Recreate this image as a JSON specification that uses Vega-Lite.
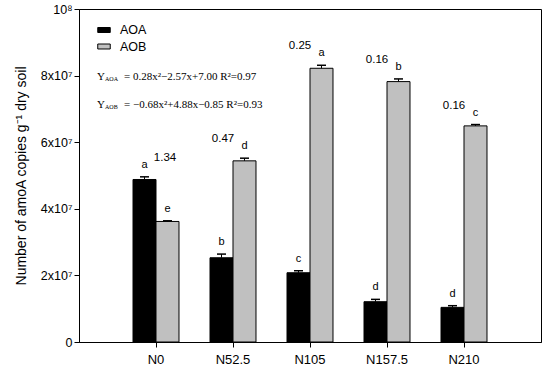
{
  "$schema": "https://vega.github.io/schema/vega-lite/v6.json",
  "autosize": "none",
  "width": 462,
  "height": 333,
  "padding": {"left": 79, "top": 9, "right": 9, "bottom": 30},
  "background": "white",
  "config": {
    "font": "Liberation Sans",
    "view": {"stroke": "black", "strokeWidth": 1},
    "axis": {"grid": false, "domainColor": "black", "tickColor": "black", "labelColor": "black", "titleColor": "black", "tickSize": 5}
  },
  "datasets": {
    "eq": [
      {"line": 1, "t": "Y", "s": "AOA", "e": "= 0.28x²−2.57x+7.00 R²=0.97"},
      {"line": 2, "t": "Y", "s": "AOB", "e": "= −0.68x²+4.88x−0.85 R²=0.93"}
    ]
  },
  "data": {"values": [
    {"group": "N0", "type": "AOA", "value": 48800000, "hi": 49600000, "letter": "a"},
    {"group": "N0", "type": "AOB", "value": 36200000, "hi": 36400000, "letter": "e", "ratio": "1.34"},
    {"group": "N52.5", "type": "AOA", "value": 25300000, "hi": 26400000, "letter": "b"},
    {"group": "N52.5", "type": "AOB", "value": 54400000, "hi": 55200000, "letter": "d", "ratio": "0.47"},
    {"group": "N105", "type": "AOA", "value": 20800000, "hi": 21400000, "letter": "c"},
    {"group": "N105", "type": "AOB", "value": 82200000, "hi": 83100000, "letter": "a", "ratio": "0.25"},
    {"group": "N157.5", "type": "AOA", "value": 12100000, "hi": 12800000, "letter": "d"},
    {"group": "N157.5", "type": "AOB", "value": 78200000, "hi": 79000000, "letter": "b", "ratio": "0.16"},
    {"group": "N210", "type": "AOA", "value": 10400000, "hi": 10900000, "letter": "d"},
    {"group": "N210", "type": "AOB", "value": 64900000, "hi": 65300000, "letter": "c", "ratio": "0.16"}
  ]},
  "layer": [
    {
      "mark": {"type": "bar", "stroke": "black", "strokeWidth": 1},
      "encoding": {
        "x": {
          "field": "group", "type": "nominal",
          "scale": {"domain": ["N0", "N52.5", "N105", "N157.5", "N210"], "paddingInner": 0.403, "paddingOuter": 0.7015},
          "axis": {"title": null, "labelAngle": 0, "labelFontSize": 13, "labelPadding": 6, "tickSize": 5}
        },
        "y": {
          "field": "value", "type": "quantitative",
          "scale": {"domain": [0, 100000000], "nice": false},
          "axis": {
            "values": [0, 20000000, 40000000, 60000000, 80000000, 100000000],
            "labelExpr": "datum.value == 0 ? '0' : (datum.value == 100000000 ? '10⁸' : (datum.value / 10000000) + 'x10⁷')",
            "labelFontSize": 12.5, "labelPadding": 2,
            "title": "Number of amoA copies g⁻¹ dry soil",
            "titleFontSize": 14, "titleFontWeight": "normal", "titlePadding": 12
          }
        },
        "xOffset": {"field": "type", "type": "nominal", "scale": {"domain": ["AOA", "AOB"], "paddingInner": 0, "paddingOuter": 0}},
        "fill": {
          "field": "type", "type": "nominal",
          "scale": {"domain": ["AOA", "AOB"], "range": ["black", "#c0c0c0"]},
          "legend": {
            "title": null, "orient": "none", "legendX": 18, "legendY": 14,
            "symbolType": "M-1,-0.4H1V0.4H-1Z", "symbolSize": 156,
            "symbolStrokeColor": "black", "symbolStrokeWidth": 1, "symbolOpacity": 1,
            "labelFontSize": 12.5, "labelColor": "black", "labelOffset": 9, "rowPadding": 2.5, "padding": 0
          }
        }
      }
    },
    {
      "mark": {"type": "rule", "stroke": "black", "strokeWidth": 1},
      "encoding": {
        "x": {"field": "group", "type": "nominal"},
        "xOffset": {"field": "type", "type": "nominal"},
        "y": {"field": "value", "type": "quantitative"},
        "y2": {"field": "hi"}
      }
    },
    {
      "mark": {"type": "tick", "color": "black", "size": 9, "thickness": 1.5, "opacity": 1},
      "encoding": {
        "x": {"field": "group", "type": "nominal"},
        "xOffset": {"field": "type", "type": "nominal"},
        "y": {"field": "hi", "type": "quantitative"}
      }
    },
    {
      "mark": {"type": "text", "fontSize": 11, "baseline": "middle", "dy": -12, "color": "black"},
      "encoding": {
        "x": {"field": "group", "type": "nominal"},
        "xOffset": {"field": "type", "type": "nominal"},
        "y": {"field": "hi", "type": "quantitative"},
        "text": {"field": "letter"}
      }
    },
    {
      "transform": [
        {"joinaggregate": [{"op": "max", "field": "hi", "as": "top"}], "groupby": ["group"]},
        {"filter": "datum.ratio != null"}
      ],
      "mark": {"type": "text", "fontSize": 11.5, "baseline": "middle", "dy": -19, "color": "black", "dx": {"expr": "datum.group === 'N0' ? 9 : -10"}},
      "encoding": {
        "x": {"field": "group", "type": "nominal"},
        "y": {"field": "top", "type": "quantitative"},
        "text": {"field": "ratio"}
      }
    },
    {
      "data": {"name": "eq"},
      "transform": [{"filter": "datum.line == 1"}],
      "mark": {"type": "text", "font": "Liberation Serif", "fontSize": 11, "align": "left", "baseline": "alphabetic", "color": "black", "dx": -59},
      "encoding": {"x": {"datum": "N0"}, "y": {"datum": 78700000}, "text": {"field": "t"}}
    },
    {
      "data": {"name": "eq"},
      "transform": [{"filter": "datum.line == 1"}],
      "mark": {"type": "text", "font": "Liberation Serif", "fontSize": 6, "align": "left", "baseline": "alphabetic", "color": "black", "dx": -51, "dy": 1},
      "encoding": {"x": {"datum": "N0"}, "y": {"datum": 78700000}, "text": {"field": "s"}}
    },
    {
      "data": {"name": "eq"},
      "transform": [{"filter": "datum.line == 1"}],
      "mark": {"type": "text", "font": "Liberation Serif", "fontSize": 11, "align": "left", "baseline": "alphabetic", "color": "black", "dx": -32},
      "encoding": {"x": {"datum": "N0"}, "y": {"datum": 78700000}, "text": {"field": "e"}}
    },
    {
      "data": {"name": "eq"},
      "transform": [{"filter": "datum.line == 2"}],
      "mark": {"type": "text", "font": "Liberation Serif", "fontSize": 11, "align": "left", "baseline": "alphabetic", "color": "black", "dx": -59},
      "encoding": {"x": {"datum": "N0"}, "y": {"datum": 70300000}, "text": {"field": "t"}}
    },
    {
      "data": {"name": "eq"},
      "transform": [{"filter": "datum.line == 2"}],
      "mark": {"type": "text", "font": "Liberation Serif", "fontSize": 6, "align": "left", "baseline": "alphabetic", "color": "black", "dx": -51, "dy": 1},
      "encoding": {"x": {"datum": "N0"}, "y": {"datum": 70300000}, "text": {"field": "s"}}
    },
    {
      "data": {"name": "eq"},
      "transform": [{"filter": "datum.line == 2"}],
      "mark": {"type": "text", "font": "Liberation Serif", "fontSize": 11, "align": "left", "baseline": "alphabetic", "color": "black", "dx": -32},
      "encoding": {"x": {"datum": "N0"}, "y": {"datum": 70300000}, "text": {"field": "e"}}
    }
  ]
}
